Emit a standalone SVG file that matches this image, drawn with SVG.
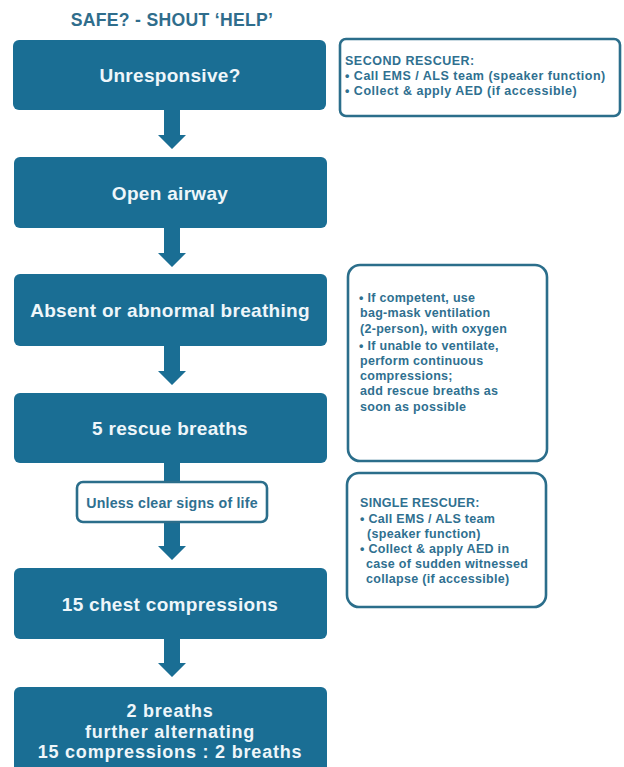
<svg xmlns="http://www.w3.org/2000/svg" width="624" height="767" viewBox="0 0 624 767">
<defs>
<style>
.step{fill:#1a6e94;}
.stxt{fill:#eef6fa;font-family:"Liberation Sans",Arial,sans-serif;font-weight:700;font-size:19px;letter-spacing:0.3px;text-anchor:middle;}
.note{fill:#ffffff;stroke:#2b6e8b;stroke-width:2.6;}
.ntxt{fill:#2f7090;font-family:"Liberation Sans",Arial,sans-serif;font-weight:700;font-size:12.5px;letter-spacing:0.3px;}
.arrow{fill:#1a6e94;}
</style>
</defs>
<rect width="624" height="767" fill="#ffffff"/>
<text x="172" y="26" fill="#2f6d8c" font-family="'Liberation Sans',Arial,sans-serif" font-weight="700" font-size="17.6" letter-spacing="0.3" text-anchor="middle">SAFE? - SHOUT ‘HELP’</text>
<g id="connectors">
<path class="arrow" d="M164,109 H180 V135 H186 L172,149 L158,135 H164 Z"/>
<path class="arrow" d="M164,227 H180 V253 H186 L172,267 L158,253 H164 Z"/>
<path class="arrow" d="M164,345 H180 V371 H186 L172,385 L158,371 H164 Z"/>
<rect class="arrow" x="164" y="462" width="16" height="22"/>
<path class="arrow" d="M164,521 H180 V546 H186 L172,560 L158,546 H164 Z"/>
<path class="arrow" d="M164,638 H180 V663 H186 L172,677 L158,663 H164 Z"/>
</g>
<g id="unresponsive">
<rect class="step" x="13" y="40" width="313" height="70" rx="6"/>
<text class="stxt" x="170" y="82">Unresponsive?</text>
</g>
<g id="second-rescuer">
<rect class="note" x="340" y="39" width="280" height="77" rx="6"/>
<text class="ntxt" x="345" y="65" style="letter-spacing:0.5px">SECOND RESCUER:</text>
<text class="ntxt" x="345" y="80" style="letter-spacing:0.5px">• Call EMS / ALS team (speaker function)</text>
<text class="ntxt" x="345" y="95" style="letter-spacing:0.5px">• Collect &amp; apply AED (if accessible)</text>
</g>
<g id="open-airway">
<rect class="step" x="14" y="157" width="313" height="71" rx="6"/>
<text class="stxt" x="170" y="200">Open airway</text>
</g>
<g id="absent-breathing">
<rect class="step" x="14" y="274" width="313" height="72" rx="6"/>
<text class="stxt" x="170" y="317">Absent or abnormal breathing</text>
</g>
<g id="ventilation-note">
<rect class="note" x="348" y="265" width="199" height="196" rx="12"/>
<text class="ntxt" x="359" y="302">•  If competent, use</text>
<text class="ntxt" x="360" y="317">bag-mask ventilation</text>
<text class="ntxt" x="360" y="333">(2-person), with oxygen</text>
<text class="ntxt" x="359" y="350">• If unable to ventilate,</text>
<text class="ntxt" x="360" y="365">perform continuous</text>
<text class="ntxt" x="360" y="380">compressions;</text>
<text class="ntxt" x="360" y="395">add rescue breaths as</text>
<text class="ntxt" x="360" y="411">soon as possible</text>
</g>
<g id="rescue-breaths">
<rect class="step" x="14" y="393" width="313" height="70" rx="6"/>
<text class="stxt" x="170" y="435">5 rescue breaths</text>
</g>
<g id="signs-of-life">
<rect class="note" x="77" y="482" width="190" height="40" rx="6"/>
<text class="ntxt" x="172" y="507.5" text-anchor="middle" style="font-size:14.2px;letter-spacing:0.2px">Unless clear signs of life</text>
</g>
<g id="single-rescuer">
<rect class="note" x="347" y="473" width="199" height="134" rx="12"/>
<text class="ntxt" x="360" y="507">SINGLE RESCUER:</text>
<text class="ntxt" x="360" y="523">• Call EMS / ALS team</text>
<text class="ntxt" x="367" y="538">(speaker function)</text>
<text class="ntxt" x="360" y="553">• Collect &amp; apply AED in</text>
<text class="ntxt" x="366" y="568">case of sudden witnessed</text>
<text class="ntxt" x="366" y="583">collapse (if accessible)</text>
</g>
<g id="chest-compressions">
<rect class="step" x="14" y="568" width="313" height="71" rx="6"/>
<text class="stxt" x="170" y="611">15 chest compressions</text>
</g>
<g id="alternating">
<rect class="step" x="14" y="687" width="313" height="95" rx="6"/>
<text class="stxt" x="170" y="717" style="font-size:18px;letter-spacing:0.8px">2 breaths</text>
<text class="stxt" x="170" y="737.5" style="font-size:18px;letter-spacing:0.8px">further alternating</text>
<text class="stxt" x="170" y="758" style="font-size:18px;letter-spacing:0.8px">15 compressions : 2 breaths</text>
</g>
</svg>
